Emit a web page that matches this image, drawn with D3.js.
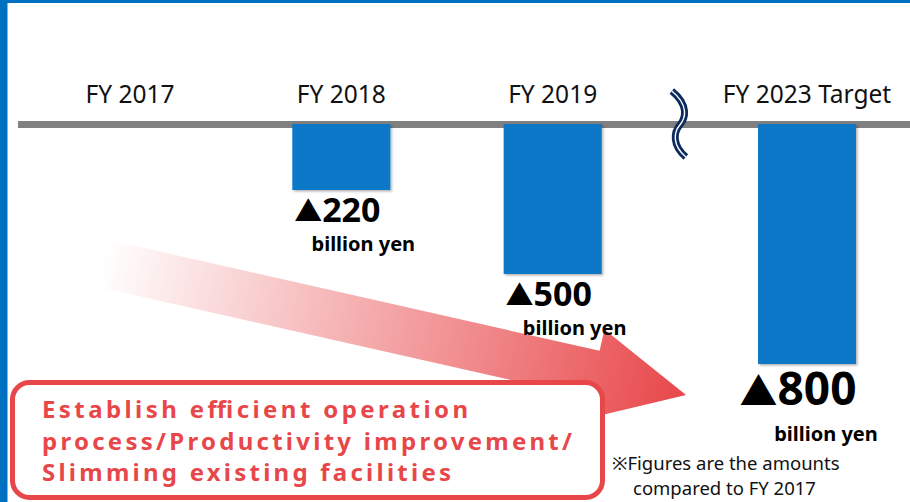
<!DOCTYPE html>
<html>
<head>
<meta charset="utf-8">
<script src="https://cdn.jsdelivr.net/npm/d3@7"></script>
<style>
    body { margin: 0; background: #fff; }
    svg { display: block; }
</style>
</head>
<body>
<div id="chart"></div>
<script>
// Cost reduction vs FY 2017
const categories = ['FY 2017', 'FY 2018', 'FY 2019', 'FY 2023 Target'];
const reductions = [0, 220, 500, 800];
const unitLabel = 'billion yen';
const breakAfter = 'FY 2019';
const boxLines = [
    'Establish efficient operation',
    'process/Productivity improvement/',
    'Slimming existing facilities'
];
const noteLines = ['※Figures are the amounts', 'compared to FY 2017'];

const width = 910, height = 502;
const axisY = 124;
const barWidth = 98;
const breakGap = 43;
const blue = '#0a78c8';
const red = '#e8474a';

const svg = d3.select('#chart')
    .append('svg')
    .attr('width', width)
    .attr('height', height)
    .style('font-family', "'Noto Sans', 'Open Sans', sans-serif");

const defs = svg.append('defs');

const shadow = defs.append('filter')
    .attr('id', 'barShadow')
    .attr('x', '-10%').attr('y', '-10%')
    .attr('width', '130%').attr('height', '130%');
shadow.append('feDropShadow')
    .attr('dx', 1.5).attr('dy', 1.5)
    .attr('stdDeviation', 1.2)
    .attr('flood-color', '#000')
    .attr('flood-opacity', 0.3);

// frame
svg.append('rect').attr('x', 0).attr('y', 0).attr('width', width).attr('height', 3).attr('fill', '#0070c0');
svg.append('rect').attr('x', 0).attr('y', 0).attr('width', 7.5).attr('height', height).attr('fill', '#0070c0');

// Create scales
const xPoint = d3.scalePoint()
    .domain(categories)
    .range([130, 764]);
const breakIndex = categories.indexOf(breakAfter);
const xPos = c => xPoint(c) + (categories.indexOf(c) > breakIndex ? breakGap : 0);

const yScale = d3.scaleLinear()
    .domain([0, d3.max(reductions)])
    .range([axisY, axisY + 240]);

const data = categories.map((c, i) => ({
    category: c,
    value: reductions[i],
    target: i === categories.length - 1
}));

// Red arrow (gradient)
const arrowStart = [102, 263];
const arrowTip = [686, 395];
const angle = Math.atan2(arrowTip[1] - arrowStart[1], arrowTip[0] - arrowStart[0]) * 180 / Math.PI;
const arrowLen = Math.hypot(arrowTip[0] - arrowStart[0], arrowTip[1] - arrowStart[1]);

const grad = defs.append('linearGradient')
    .attr('id', 'arrowGrad')
    .attr('gradientUnits', 'userSpaceOnUse')
    .attr('x1', 0).attr('y1', 0)
    .attr('x2', arrowLen).attr('y2', 0);
grad.append('stop').attr('offset', 0).attr('stop-color', red).attr('stop-opacity', 0);
grad.append('stop').attr('offset', 1).attr('stop-color', red).attr('stop-opacity', 1);

const headLen = 94, shaftHalf = 24, headHalf = 46;
svg.append('g')
    .attr('transform', `translate(${arrowStart[0]},${arrowStart[1]}) rotate(${angle})`)
    .append('path')
    .attr('d', d3.line()([
        [0, -shaftHalf],
        [arrowLen - headLen, -shaftHalf],
        [arrowLen - headLen, -headHalf],
        [arrowLen, 0],
        [arrowLen - headLen, headHalf],
        [arrowLen - headLen, shaftHalf],
        [0, shaftHalf]
    ]) + 'Z')
    .attr('fill', 'url(#arrowGrad)');

// Message box
svg.append('rect')
    .attr('x', 12.5).attr('y', 382.5)
    .attr('width', 590).attr('height', 115)
    .attr('rx', 17)
    .attr('fill', '#fff')
    .attr('stroke', red)
    .attr('stroke-width', 5);

const boxWidths = [426, 530, 409];
svg.append('g')
    .selectAll('text')
    .data(boxLines)
    .enter()
    .append('text')
    .attr('x', 42)
    .attr('y', (d, i) => 418 + i * 31.5)
    .attr('textLength', (d, i) => boxWidths[i])
    .attr('lengthAdjust', 'spacing')
    .attr('font-size', '24px')
    .attr('font-weight', 'bold')
    .attr('fill', red)
    .text(d => d);

// Axis line
svg.append('rect')
    .attr('x', 18).attr('y', 121)
    .attr('width', width - 18).attr('height', 7)
    .attr('fill', '#808080');

// Category labels
svg.append('g')
    .selectAll('text')
    .data(categories)
    .enter()
    .append('text')
    .attr('x', d => xPos(d))
    .attr('y', 103)
    .attr('text-anchor', 'middle')
    .attr('font-size', '24.5px')
    .attr('fill', '#111')
    .text(d => d);

// Axis break mark
const bx = (xPos(categories[breakIndex]) + xPos(categories[breakIndex + 1])) / 2;
const breakPath = `M${bx - 8},91 C${bx + 9},105 ${bx + 6},118 ${bx},125 C${bx - 6},132 ${bx - 8},145 ${bx + 6},157`;
svg.append('path').attr('d', breakPath).attr('fill', 'none')
    .attr('stroke', '#0b2a5e').attr('stroke-width', 7);
svg.append('path').attr('d', breakPath).attr('fill', 'none')
    .attr('stroke', '#fff').attr('stroke-width', 1.4);

// Bars
const bars = data.filter(d => d.value > 0);
svg.append('g')
    .selectAll('rect')
    .data(bars)
    .enter()
    .append('rect')
    .attr('x', d => xPos(d.category) - barWidth / 2)
    .attr('y', yScale(0))
    .attr('width', barWidth)
    .attr('height', d => yScale(d.value) - yScale(0))
    .attr('fill', blue)
    .attr('filter', 'url(#barShadow)');

// Value labels
const valueText = svg.append('g')
    .selectAll('text')
    .data(bars)
    .enter()
    .append('text')
    .attr('x', d => xPos(d.category) - (d.target ? 9 : 4))
    .attr('y', d => yScale(d.value) + (d.target ? 41 : 32))
    .attr('text-anchor', 'middle')
    .attr('font-weight', 'bold')
    .attr('fill', '#000');
valueText.append('tspan')
    .attr('font-family', "'Noto Sans CJK JP', 'DejaVu Sans', sans-serif")
    .attr('font-size', d => d.target ? '38px' : '28px')
    .text('▲');
valueText.append('tspan')
    .attr('font-size', d => d.target ? '46px' : '34px')
    .text(d => d.value);

svg.append('g')
    .selectAll('text')
    .data(bars)
    .enter()
    .append('text')
    .attr('x', d => xPos(d.category) + (d.target ? 19 : 22))
    .attr('y', d => yScale(d.value) + (d.target ? 77 : 61))
    .attr('text-anchor', 'middle')
    .attr('font-size', '20px')
    .attr('font-weight', 'bold')
    .attr('fill', '#000')
    .text(unitLabel);

// Footnote
svg.append('g')
    .selectAll('text')
    .data(noteLines)
    .enter()
    .append('text')
    .attr('x', (d, i) => i === 0 ? 612 : 633)
    .attr('y', (d, i) => 470 + i * 25)
    .attr('font-size', '18.5px')
    .attr('fill', '#111')
    .text(d => d);
</script>
</body>
</html>
